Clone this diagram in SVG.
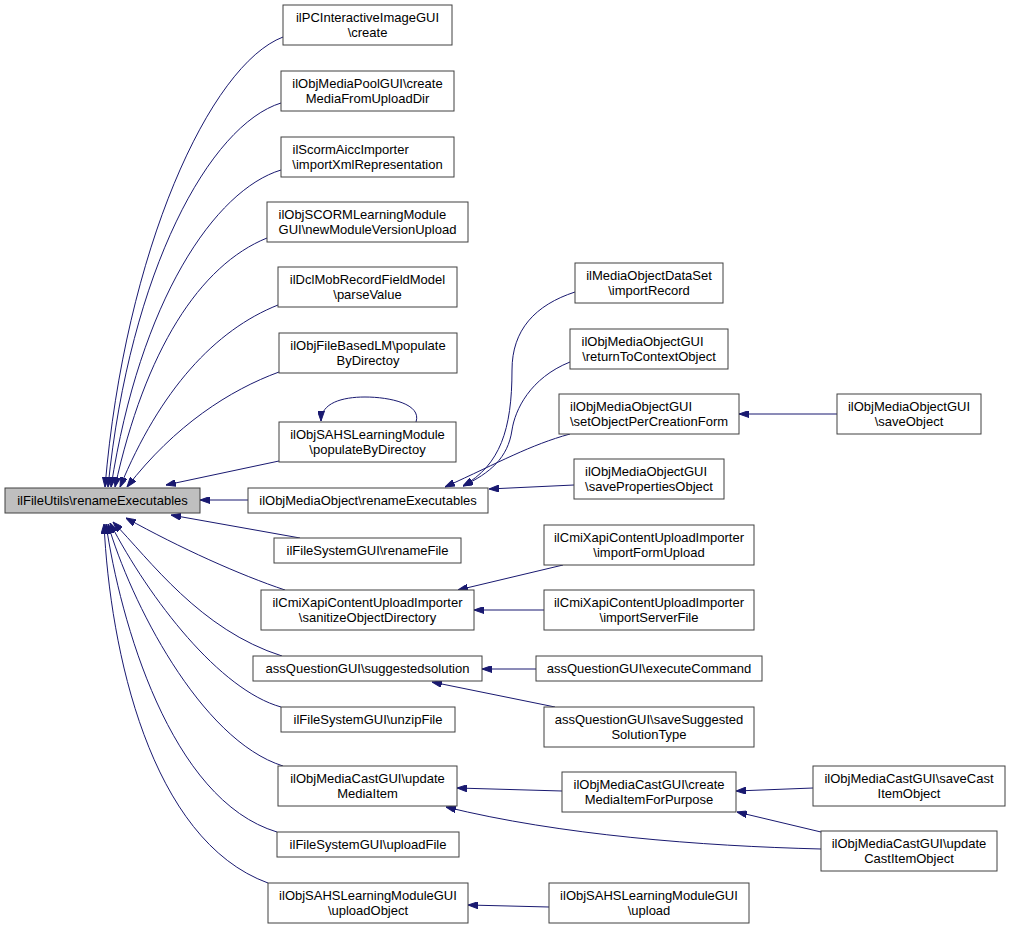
<svg xmlns="http://www.w3.org/2000/svg" width="1013" height="936" viewBox="0 0 1013 936">
<style>
.n rect{fill:#ffffff;stroke:#404040;stroke-width:1}
.root rect{fill:#bfbfbf;stroke:#404040;stroke-width:1}
text{font-family:"Liberation Sans",Arial,Helvetica,sans-serif;font-size:13px;fill:#000}
.c{text-anchor:middle}
.s{text-anchor:start}
#edges path{fill:none;stroke:#191970;stroke-width:1;marker-end:url(#arr)}
</style>
<defs>
<marker id="arr" viewBox="0 0 10 7" refX="10" refY="3.5" markerWidth="10" markerHeight="7" markerUnits="userSpaceOnUse" orient="auto">
<path d="M0,0 L10,3.5 L0,7 z" fill="#191970" stroke="#191970"/>
</marker>
</defs>
<rect width="1013" height="936" fill="#ffffff"/>
<g id="edges">
<path d="M283,37 C210,65 125,250 105,487"/>
<path d="M281,103 C210,125 130,270 108,487"/>
<path d="M281,170 C215,190 140,300 111,487"/>
<path d="M267,238 C200,265 145,350 115,487"/>
<path d="M278,305 C215,330 160,390 120,487"/>
<path d="M279,372 C230,390 175,425 127,487"/>
<path d="M416,422 C422,404 390,397 365,397 C342,397 321,403 321,421"/>
<path d="M279,461 L166,485"/>
<path d="M248,500 L200,500"/>
<path d="M300,538 L171,515"/>
<path d="M285,590 C240,575 180,548 126,518"/>
<path d="M282,656 C200,630 150,560 113,522"/>
<path d="M281,707 C220,690 150,600 110,523"/>
<path d="M283,766 C200,740 130,600 108,524"/>
<path d="M277,832 C170,800 120,620 106,524"/>
<path d="M268,883 C150,840 110,650 104,524"/>
<path d="M575,292 C535,305 512,330 512,370 C512,430 500,465 463,486"/>
<path d="M570,362 C530,378 515,410 512,430 C508,458 490,473 463,486"/>
<path d="M570,434 C530,445 500,462 445,487"/>
<path d="M574,485 L489,489"/>
<path d="M837,414 L739,414"/>
<path d="M563,565 L458,590"/>
<path d="M544,610 L474,610"/>
<path d="M536,669 L482,669"/>
<path d="M555,707 L432,682"/>
<path d="M562,791 L457,788"/>
<path d="M821,849 C700,846 560,835 446,807"/>
<path d="M813,788 L736,791"/>
<path d="M821,832 L737,812"/>
<path d="M549,907 L468,905"/>
</g>
<g id="node0" class="root"><rect x="5" y="488" width="195" height="25"/><text class="c" x="102.5" y="505">ilFileUtils\renameExecutables</text></g>
<g id="node1" class="n"><rect x="283" y="5" width="169" height="40"/><text class="c" x="367.5" y="22">ilPCInteractiveImageGUI</text><text class="c" x="367.5" y="37">\create</text></g>
<g id="node2" class="n"><rect x="281" y="71" width="173" height="40"/><text class="c" x="367.5" y="88">ilObjMediaPoolGUI\create</text><text class="c" x="367.5" y="103">MediaFromUploadDir</text></g>
<g id="node3" class="n"><rect x="281" y="137" width="173" height="40"/><text class="s" x="292.5" y="154">ilScormAiccImporter</text><text class="c" x="367.5" y="169">\importXmlRepresentation</text></g>
<g id="node4" class="n"><rect x="267" y="202" width="201" height="40"/><text class="s" x="278.5" y="219">ilObjSCORMLearningModule</text><text class="c" x="367.5" y="234">GUI\newModuleVersionUpload</text></g>
<g id="node5" class="n"><rect x="278" y="267" width="179" height="40"/><text class="c" x="367.5" y="284">ilDclMobRecordFieldModel</text><text class="c" x="367.5" y="299">\parseValue</text></g>
<g id="node6" class="n"><rect x="279" y="333" width="178" height="40"/><text class="c" x="368" y="350">ilObjFileBasedLM\populate</text><text class="c" x="368" y="365">ByDirectoy</text></g>
<g id="node7" class="n"><rect x="279" y="422" width="177" height="40"/><text class="c" x="367.5" y="439">ilObjSAHSLearningModule</text><text class="c" x="367.5" y="454">\populateByDirectoy</text></g>
<g id="node8" class="n"><rect x="248" y="488" width="240" height="25"/><text class="c" x="368" y="505">ilObjMediaObject\renameExecutables</text></g>
<g id="node9" class="n"><rect x="274" y="538" width="187" height="25"/><text class="c" x="367.5" y="555">ilFileSystemGUI\renameFile</text></g>
<g id="node10" class="n"><rect x="261" y="590" width="213" height="40"/><text class="c" x="367.5" y="607">ilCmiXapiContentUploadImporter</text><text class="c" x="367.5" y="622">\sanitizeObjectDirectory</text></g>
<g id="node11" class="n"><rect x="253" y="656" width="229" height="25"/><text class="c" x="367.5" y="673">assQuestionGUI\suggestedsolution</text></g>
<g id="node12" class="n"><rect x="281" y="707" width="174" height="25"/><text class="c" x="368" y="724">ilFileSystemGUI\unzipFile</text></g>
<g id="node13" class="n"><rect x="278" y="766" width="179" height="40"/><text class="c" x="367.5" y="783">ilObjMediaCastGUI\update</text><text class="c" x="367.5" y="798">MediaItem</text></g>
<g id="node14" class="n"><rect x="277" y="832" width="182" height="25"/><text class="c" x="368" y="849">ilFileSystemGUI\uploadFile</text></g>
<g id="node15" class="n"><rect x="268" y="883" width="200" height="40"/><text class="c" x="368" y="900">ilObjSAHSLearningModuleGUI</text><text class="c" x="368" y="915">\uploadObject</text></g>
<g id="node16" class="n"><rect x="575" y="263" width="148" height="40"/><text class="c" x="649" y="280">ilMediaObjectDataSet</text><text class="c" x="649" y="295">\importRecord</text></g>
<g id="node17" class="n"><rect x="570" y="329" width="158" height="40"/><text class="s" x="581.5" y="346">ilObjMediaObjectGUI</text><text class="c" x="649" y="361">\returnToContextObject</text></g>
<g id="node18" class="n"><rect x="559" y="394" width="180" height="40"/><text class="s" x="570" y="411">ilObjMediaObjectGUI</text><text class="c" x="649" y="426">\setObjectPerCreationForm</text></g>
<g id="node19" class="n"><rect x="574" y="459" width="150" height="40"/><text class="s" x="585" y="476">ilObjMediaObjectGUI</text><text class="c" x="649" y="491">\savePropertiesObject</text></g>
<g id="node20" class="n"><rect x="837" y="394" width="144" height="40"/><text class="c" x="909" y="411">ilObjMediaObjectGUI</text><text class="c" x="909" y="426">\saveObject</text></g>
<g id="node21" class="n"><rect x="544" y="525" width="210" height="40"/><text class="c" x="649" y="542">ilCmiXapiContentUploadImporter</text><text class="c" x="649" y="557">\importFormUpload</text></g>
<g id="node22" class="n"><rect x="544" y="590" width="210" height="40"/><text class="c" x="649" y="607">ilCmiXapiContentUploadImporter</text><text class="c" x="649" y="622">\importServerFile</text></g>
<g id="node23" class="n"><rect x="536" y="656" width="226" height="25"/><text class="c" x="649" y="673">assQuestionGUI\executeCommand</text></g>
<g id="node24" class="n"><rect x="544" y="707" width="210" height="40"/><text class="c" x="649" y="724">assQuestionGUI\saveSuggested</text><text class="c" x="649" y="739">SolutionType</text></g>
<g id="node25" class="n"><rect x="562" y="772" width="174" height="40"/><text class="c" x="649" y="789">ilObjMediaCastGUI\create</text><text class="c" x="649" y="804">MediaItemForPurpose</text></g>
<g id="node26" class="n"><rect x="813" y="766" width="192" height="40"/><text class="c" x="909" y="783">ilObjMediaCastGUI\saveCast</text><text class="c" x="909" y="798">ItemObject</text></g>
<g id="node27" class="n"><rect x="821" y="831" width="176" height="40"/><text class="c" x="909" y="848">ilObjMediaCastGUI\update</text><text class="c" x="909" y="863">CastItemObject</text></g>
<g id="node28" class="n"><rect x="549" y="883" width="200" height="40"/><text class="c" x="649" y="900">ilObjSAHSLearningModuleGUI</text><text class="c" x="649" y="915">\upload</text></g>
</svg>
